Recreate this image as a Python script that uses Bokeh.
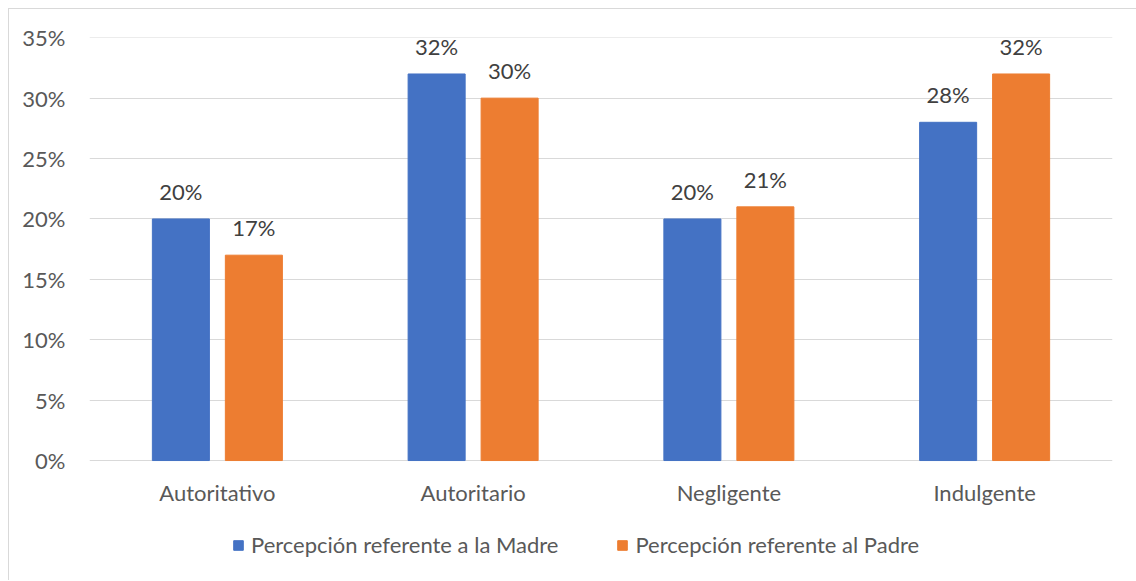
from bokeh.plotting import figure
from bokeh.models import ColumnDataSource, FactorRange, Range1d, NumeralTickFormatter, FixedTicker, Legend, LegendItem, LabelSet
from bokeh.core.properties import value
from bokeh.transform import dodge
from bokeh.embed import file_html
from bokeh.resources import INLINE

categories = ["Autoritativo", "Autoritario", "Negligente", "Indulgente"]
madre = [0.20, 0.32, 0.20, 0.28]
padre = [0.17, 0.30, 0.21, 0.32]
series_names = ["Percepción referente a la Madre", "Percepción referente al Padre"]
y_ticks = [0.0, 0.05, 0.10, 0.15, 0.20, 0.25, 0.30, 0.35]

FONT = "Lato"
FS = "22px"
TXT = "#595959"

src = ColumnDataSource(dict(
    cat=categories, madre=madre, padre=padre,
    base=[0.0] * len(categories),
    madre_lbl=[f"{round(v*100)}%" for v in madre],
    padre_lbl=[f"{round(v*100)}%" for v in padre],
))

# frame extends below zero so the legend and category labels sit inside it
p = figure(x_range=FactorRange(*categories), y_range=Range1d(-0.0993, 0.3502),
           frame_width=1023, frame_height=543, output_backend="svg",
           toolbar_location=None, min_border_left=80, min_border_top=28,
           min_border_right=25, min_border_bottom=0)
p.outline_line_color = None
p.margin = (8, 0, 0, 8)
p.styles = {"border-top": "1px solid #d9d9d9", "border-left": "1px solid #d9d9d9"}

off = 0.1427
w = 0.223
r1 = p.vbar(x=dodge("cat", -off, range=p.x_range), top="madre", width=w, source=src, color="#4472C4")
r2 = p.vbar(x=dodge("cat", off, range=p.x_range), top="padre", width=w, source=src, color="#ED7D31")

for col, lbl, o in (("madre", "madre_lbl", -off), ("padre", "padre_lbl", off)):
    ls = LabelSet(x=dodge("cat", o, range=p.x_range), y=col, text=lbl, source=src,
                  y_offset=19, text_align="center", text_baseline="alphabetic",
                  text_font=value(FONT), text_font_size=FS, text_color="#404040")
    p.add_layout(ls)

# category labels
p.text(x="cat", y="base", text="cat", source=src, y_offset=32,
       text_align="center", text_baseline="middle",
       text_font=value(FONT), text_font_size=FS, text_color=TXT)

p.yaxis.ticker = FixedTicker(ticks=y_ticks)
p.yaxis.formatter = NumeralTickFormatter(format="0%")
p.yaxis.axis_line_color = None
p.yaxis.major_tick_line_color = None
p.yaxis.minor_tick_line_color = None
p.yaxis.major_label_standoff = 18
p.yaxis.major_label_text_font = FONT
p.yaxis.major_label_text_font_size = FS
p.yaxis.major_label_text_color = TXT

p.xaxis.visible = False
p.xgrid.grid_line_color = None
p.ygrid.grid_line_color = "#D9D9D9"
p.ygrid.ticker = FixedTicker(ticks=y_ticks)

legend = Legend(items=[LegendItem(label=series_names[0], renderers=[r1]),
                       LegendItem(label=series_names[1], renderers=[r2])],
                orientation="horizontal", location=(143, 22),
                label_text_font=FONT, label_text_font_size=FS, label_text_color=TXT,
                glyph_width=12, glyph_height=12, spacing=58, label_standoff=7,
                border_line_color=None, background_fill_alpha=0, margin=0, padding=0)
p.add_layout(legend)

open("out.html", "w").write(file_html(p, INLINE))
